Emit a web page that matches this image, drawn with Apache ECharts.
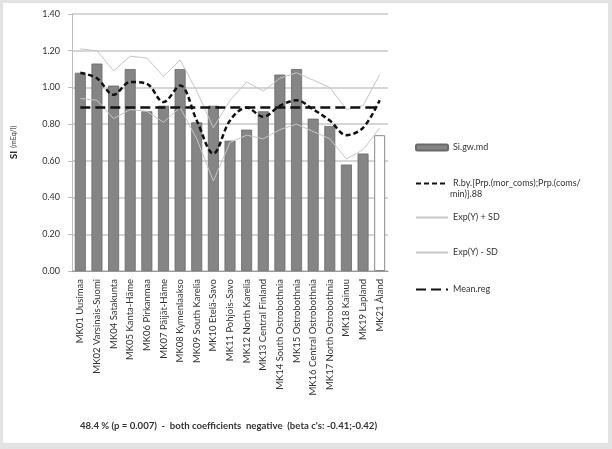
<!DOCTYPE html>
<html><head><meta charset="utf-8">
<script src="https://cdn.jsdelivr.net/npm/echarts@6/dist/echarts.min.js"></script>
<style>html,body{margin:0;padding:0;background:#e3e3e3}#c{width:612px;height:449px}</style>
</head><body><div id="c"></div>
<script>
const categories = ["MK01 Uusimaa","MK02 Varsinais-Suomi","MK04 Satakunta","MK05 Kanta-Häme","MK06 Pirkanmaa","MK07 Päijät-Häme","MK08 Kymenlaakso","MK09 South Karelia","MK10 Etelä-Savo","MK11 Pohjois-Savo","MK12 North Karelia","MK13 Central Finland","MK14 South Ostrobothnia","MK15 Ostrobothnia","MK16 Central Ostrobothnia","MK17 North Ostrobothnia","MK18 Kainuu","MK19 Lapland","MK21 Åland"];
const siGwMd = [1.08,1.13,1.01,1.10,0.87,0.90,1.10,0.81,0.90,0.71,0.77,0.87,1.07,1.10,0.83,0.79,0.58,0.64,0.74];
const rBy = [1.08,1.05,0.96,1.03,1.02,0.92,1.01,0.82,0.64,0.82,0.89,0.84,0.90,0.93,0.88,0.82,0.74,0.78,0.93];
const expPlusSD = [1.21,1.20,1.09,1.17,1.16,1.06,1.15,0.98,0.78,0.93,1.03,0.98,1.05,1.08,1.04,1.00,0.88,0.90,1.07];
const expMinusSD = [0.94,0.93,0.83,0.88,0.87,0.81,0.89,0.72,0.49,0.70,0.74,0.72,0.77,0.80,0.76,0.72,0.61,0.66,0.78];
const meanReg = [0.89,0.89,0.89,0.89,0.89,0.89,0.89,0.89,0.89,0.89,0.89,0.89,0.89,0.89,0.89,0.89,0.89,0.89,0.89];
const yTicks = {min:0, max:1.4, interval:0.2};
const names = ["Si.gw.md","R.by.[Prp.(mor_coms);Prp.(coms/","Exp(Y) + SD","Exp(Y) - SD","Mean.reg"];

const FONT = 'Lato';
const chart = echarts.init(document.getElementById('c'));
const barData = siGwMd.map((v,i)=> i === siGwMd.length-1
  ? {value:v, itemStyle:{color:'#ffffff', borderColor:'#8a8a8a', borderWidth:1}}
  : v);
const legendTops = [138, 174, 208, 243, 280];
const legends = names.map((n,i)=>({
  data:[n], left:410, top:legendTops[i], orient:'vertical',
  itemWidth:32, itemHeight: i===0 ? 6 : 10,
  itemStyle: i===0 ? {} : {color:'rgba(0,0,0,0)', borderColor:'rgba(0,0,0,0)', borderWidth:0, opacity:0},
  textStyle:{fontFamily:FONT, fontSize:9, color:'#333'},
  selectedMode:false
}));
chart.setOption({
  backgroundColor:'#e3e3e3',
  animation:false,
  textStyle:{fontFamily:FONT},
  graphic:[
    {type:'rect', z:-100, silent:true, shape:{x:3,y:3,width:605,height:440}, style:{fill:'#ffffff'}},
    {type:'text', left:450, top:190, style:{text:'min)].88', fontFamily:FONT, fontSize:9, fill:'#333'}},
    {type:'text', left:80, top:421, style:{text:"48.4 % (p = 0.007)  -  both coefficients  negative  (beta c's: -0.41;-0.42)", fontFamily:FONT, fontSize:9.6, fontWeight:'bold', fill:'#333'}}
  ],
  legend: legends,
  grid:{left:72, right:224, top:14, bottom:178, containLabel:false},
  xAxis:{
    type:'category', data:categories,
    axisLine:{lineStyle:{color:'#9a9a9a', width:1}},
    axisTick:{length:3, lineStyle:{color:'#9a9a9a'}},
    axisLabel:{rotate:90, fontSize:9.5, color:'#333', fontFamily:FONT, margin:8, interval:0}
  },
  yAxis:{
    type:'value', min:yTicks.min, max:yTicks.max, interval:yTicks.interval,
    name:'{b|SI} {s|(mEq/l)}', nameLocation:'middle', nameGap:52, nameRotate:90,
    nameTextStyle:{rich:{b:{fontWeight:'bold', fontSize:10, color:'#222', fontFamily:FONT}, s:{fontSize:7, color:'#333', fontFamily:FONT}}},
    axisLine:{show:true, lineStyle:{color:'#bdbdbd'}},
    axisTick:{show:true, length:4, lineStyle:{color:'#bdbdbd'}},
    axisLabel:{fontSize:9, color:'#333', fontFamily:FONT, margin:12, formatter:v=>v.toFixed(2)},
    splitLine:{lineStyle:{color:'#c9c9c9', width:1.5}}
  },
  series:[
    {name:names[0], type:'bar', data:barData, barWidth:11, z:2,
     itemStyle:{color:'#858585', borderColor:'#6a6a6a', borderWidth:0.8}},
    {name:names[1], type:'line', data:rBy, smooth:0.35, symbol:'none', z:6,
     lineStyle:{color:'#111', width:2.5, type:[5,3]}, itemStyle:{color:'#111'}},
    {name:names[2], type:'line', data:expPlusSD, symbol:'none', z:4,
     lineStyle:{color:'#c6c6c6', width:1}, itemStyle:{color:'#c6c6c6'}},
    {name:names[3], type:'line', data:expMinusSD, symbol:'none', z:4,
     lineStyle:{color:'#c6c6c6', width:1}, itemStyle:{color:'#c6c6c6'}},
    {name:names[4], type:'line', data:meanReg, symbol:'none', z:5,
     lineStyle:{color:'#111', width:2.5, type:[10,5]}, itemStyle:{color:'#111'}}
  ]
});
</script></body></html>
